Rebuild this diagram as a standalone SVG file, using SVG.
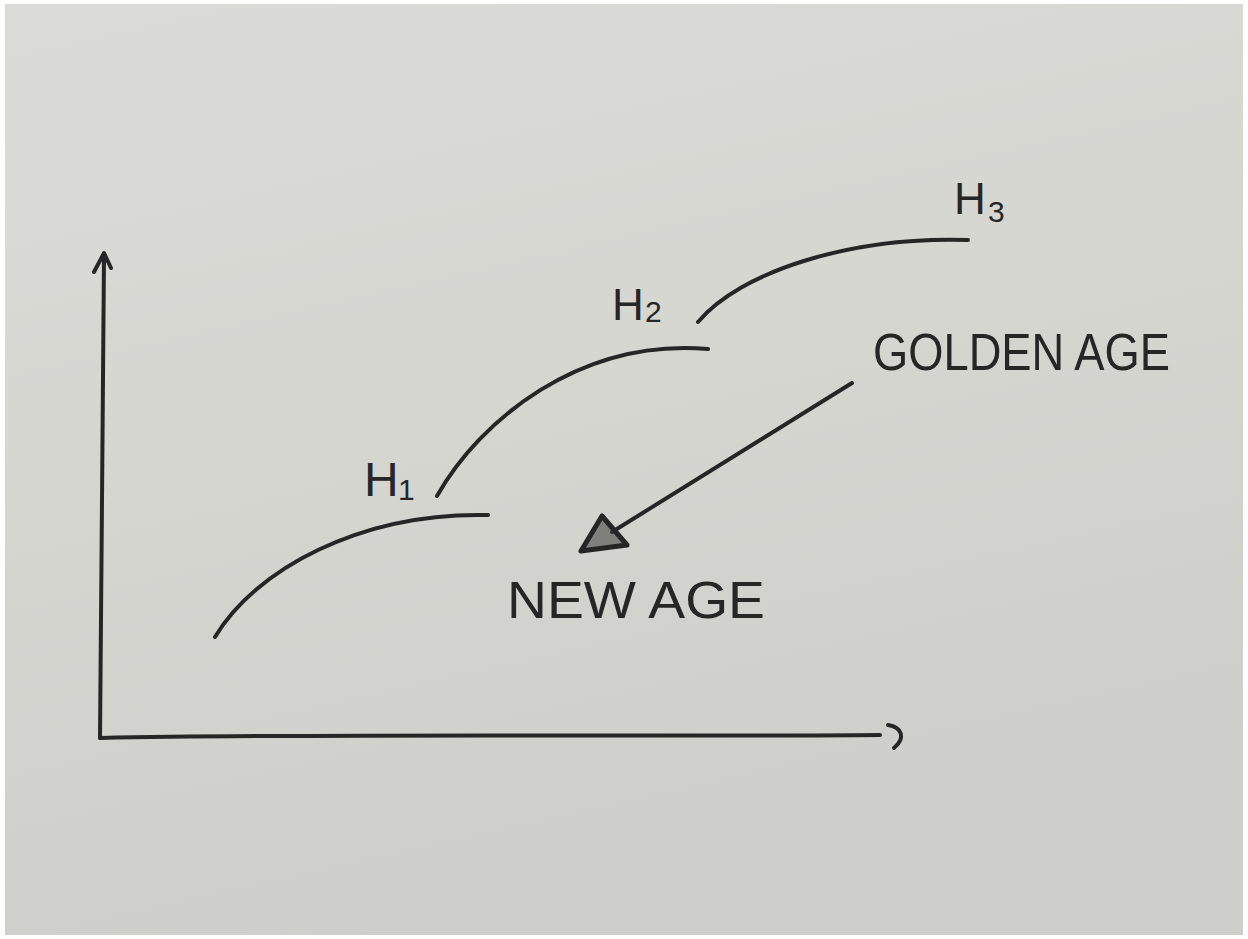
<svg xmlns="http://www.w3.org/2000/svg" width="1248" height="939" viewBox="0 0 1248 939">
<defs>
<linearGradient id="paper" x1="0" y1="0" x2="0.3" y2="1">
<stop offset="0" stop-color="#dbdbd7"/>
<stop offset="0.5" stop-color="#d6d6d1"/>
<stop offset="1" stop-color="#cececa"/>
</linearGradient>
<style>
.ink{fill:none;stroke:#262626;stroke-width:4;stroke-linecap:round;stroke-linejoin:round}
.lbl{font-family:"Liberation Sans",Arial,sans-serif;fill:#262626}
</style>
</defs>
<rect x="0" y="0" width="1248" height="939" fill="#ffffff"/>
<rect x="5" y="4" width="1238" height="931" fill="url(#paper)"/>
<g id="axes">
<path class="ink" d="M100,738 C101,600 103,400 104,256"/>
<path class="ink" d="M94,272 L104,253 L111,268"/>
<path class="ink" d="M100,738 C350,733 650,737 880,735"/>
<path class="ink" d="M888,725 C902,727 906,738 894,748"/>
</g>
<g id="connectors">
<path class="ink" d="M215,637 C255,570 360,512 488,515"/>
<path class="ink" d="M437,496 C480,420 580,338 708,349"/>
<path class="ink" d="M698,322 C740,272 850,236 968,240"/>
<path class="ink" d="M852,383 L612,532"/>
</g>
<g id="new-age-triangle">
<path d="M602,516 L581,551 L627,545 Z" fill="#3a3a3a" fill-opacity="0.55" stroke="#262626" stroke-width="5" stroke-linejoin="round"/>
</g>
<g id="h1">
<text class="lbl" x="364" y="496" font-size="48">H</text>
<text class="lbl" x="398" y="500" font-size="30">1</text>
</g>
<g id="h2">
<text class="lbl" x="612" y="320" font-size="44">H</text>
<text class="lbl" x="645" y="322" font-size="30">2</text>
</g>
<g id="h3">
<text class="lbl" x="954" y="214" font-size="44">H</text>
<text class="lbl" x="988" y="222" font-size="30">3</text>
</g>
<g id="golden-age">
<text class="lbl" x="873" y="370" font-size="52" textLength="297" lengthAdjust="spacingAndGlyphs">GOLDEN AGE</text>
</g>
<g id="new-age">
<text class="lbl" x="507" y="618" font-size="52" textLength="258" lengthAdjust="spacingAndGlyphs">NEW AGE</text>
</g>
</svg>
